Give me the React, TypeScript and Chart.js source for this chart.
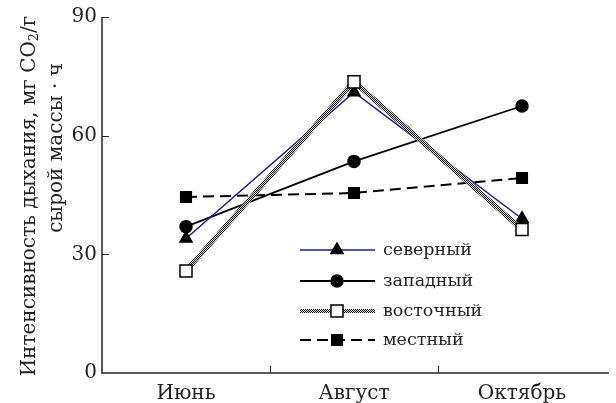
import React, { useEffect, useRef } from "react";
import { Chart, registerables } from "chart.js";
Chart.register(...registerables);

const categories = ["Июнь", "Август", "Октябрь"];
const northern = [34, 71, 39];
const western = [37, 53.5, 67.5];
const eastern = [25.8, 73.6, 36.3];
const local = [44.5, 45.5, 49.3];
const yTickValues = [0, 30, 60, 90];
const seriesNames = ["северный", "западный", "восточный", "местный"];
const yTitleLine1Parts = ["Интенсивность дыхания, мг CO", "2", "/г"];
const yTitleLine2 = "сырой массы · ч";

const FONT = "DejaVu Serif";

export default function App() {
  const ref = useRef<HTMLCanvasElement | null>(null);
  useEffect(() => {
    document.body.style.margin = "0";
    const canvas = ref.current!;
    const ctx = canvas.getContext("2d")!;
    const pc = document.createElement("canvas");
    pc.width = 2;
    pc.height = 2;
    const pctx = pc.getContext("2d")!;
    pctx.fillStyle = "#ddd";
    pctx.fillRect(0, 0, 2, 2);
    pctx.fillStyle = "#111";
    pctx.fillRect(0, 0, 1, 1);
    pctx.fillRect(1, 1, 1, 1);
    const pattern = ctx.createPattern(pc, "repeat")!;

    const styles = [
      { color: "#1c1c8a", width: 1.5, dash: [] as number[], shape: "triangle", fill: "#000", r: 7 },
      { color: "#000", width: 1.8, dash: [] as number[], shape: "circle", fill: "#000", r: 6 },
      { color: pattern as any, width: 5, dash: [] as number[], shape: "rect", fill: "#fff", r: 8.5 },
      { color: "#000", width: 2, dash: [11, 6], shape: "rect", fill: "#000", r: 7.5 },
    ];
    const dataArrays = [northern, western, eastern, local];

    const drawMarker = (c: CanvasRenderingContext2D, shape: string, x: number, y: number, r: number, fill: string) => {
      c.save();
      c.setLineDash([]);
      c.fillStyle = fill;
      c.strokeStyle = "#000";
      c.lineWidth = 1.5;
      c.beginPath();
      if (shape === "circle") {
        c.arc(x, y, r, 0, Math.PI * 2);
      } else if (shape === "triangle") {
        let rad = 0;
        c.moveTo(x + Math.sin(rad) * r, y - Math.cos(rad) * r);
        rad += (2 * Math.PI) / 3;
        c.lineTo(x + Math.sin(rad) * r, y - Math.cos(rad) * r);
        rad += (2 * Math.PI) / 3;
        c.lineTo(x + Math.sin(rad) * r, y - Math.cos(rad) * r);
        c.closePath();
      } else {
        const s = Math.SQRT1_2 * r;
        c.rect(x - s, y - s, 2 * s, 2 * s);
      }
      c.fill();
      c.stroke();
      c.restore();
    };

    const decor = {
      id: "decor",
      afterDraw(chart: any) {
        const c = chart.ctx as CanvasRenderingContext2D;
        const { left, right, top, bottom } = chart.chartArea;
        const xs = chart.scales.x;
        const ys = chart.scales.y;
        c.save();
        c.strokeStyle = "#222";
        c.lineWidth = 1.5;
        c.beginPath();
        c.moveTo(left, top);
        c.lineTo(left, bottom);
        c.lineTo(right + 3, bottom);
        c.stroke();
        // y ticks (inside)
        c.lineWidth = 1;
        yTickValues.forEach((v) => {
          if (v === 0) return;
          const y = Math.round(ys.getPixelForValue(v)) + 0.5;
          c.beginPath();
          c.moveTo(left, y);
          c.lineTo(left + 7, y);
          c.stroke();
        });
        // x ticks at category boundaries (inside)
        for (let i = 1; i < categories.length; i++) {
          const x = Math.round((xs.getPixelForValue(i - 1) + xs.getPixelForValue(i)) / 2) + 0.5;
          c.beginPath();
          c.moveTo(x, bottom);
          c.lineTo(x, bottom - 7);
          c.stroke();
        }
        // y title
        c.fillStyle = "#222";
        c.textBaseline = "middle";
        c.save();
        c.translate(30, 196);
        c.rotate(-Math.PI / 2);
        const mainFont = `20px "${FONT}"`;
        const subFont = `13px "${FONT}"`;
        c.font = mainFont;
        const w0 = c.measureText(yTitleLine1Parts[0]).width;
        const w2 = c.measureText(yTitleLine1Parts[2]).width;
        c.font = subFont;
        const w1 = c.measureText(yTitleLine1Parts[1]).width;
        let x0 = -(w0 + w1 + w2) / 2;
        c.textAlign = "left";
        c.font = mainFont;
        c.fillText(yTitleLine1Parts[0], x0, 0);
        x0 += w0;
        c.font = subFont;
        c.fillText(yTitleLine1Parts[1], x0, 5);
        x0 += w1;
        c.font = mainFont;
        c.fillText(yTitleLine1Parts[2], x0, 0);
        c.restore();
        c.save();
        c.translate(57, 148);
        c.rotate(-Math.PI / 2);
        c.font = mainFont;
        c.textAlign = "center";
        c.fillText(yTitleLine2, 0, 0);
        c.restore();
        // legend
        const rows = [250, 281, 311, 340];
        const legendFont = `17.5px "${FONT}"`;
        seriesNames.forEach((name, i) => {
          const st = styles[i];
          const y = rows[i];
          c.save();
          c.strokeStyle = st.color;
          c.lineWidth = i === 2 ? 4 : st.width;
          c.setLineDash(st.dash);
          c.beginPath();
          c.moveTo(300, y);
          c.lineTo(375, y);
          c.stroke();
          c.restore();
          drawMarker(c, st.shape, 337, y, st.r, st.fill);
          c.font = legendFont;
          c.textAlign = "left";
          c.fillStyle = "#222";
          c.fillText(name, 383, y);
        });
        c.restore();
      },
    };

    const chart = new Chart(canvas, {
      type: "line",
      data: {
        labels: categories,
        datasets: dataArrays.map((d, i) => ({
          label: seriesNames[i],
          data: d,
          borderColor: styles[i].color,
          borderWidth: styles[i].width,
          borderDash: styles[i].dash,
          pointStyle: styles[i].shape as any,
          pointRadius: styles[i].r,
          pointBackgroundColor: styles[i].fill,
          pointBorderColor: "#000",
          pointBorderWidth: 1.5,
          tension: 0,
          fill: false,
          order: i === 2 ? 0 : i + 1,
        })),
      },
      options: {
        animation: false,
        responsive: false,
        events: [],
        layout: { padding: { top: 17, right: 3, left: 0, bottom: 0 } },
        plugins: { legend: { display: false }, tooltip: { enabled: false } },
        scales: {
          x: {
            type: "category",
            offset: true,
            grid: { display: false, drawTicks: false },
            border: { display: false },
            ticks: { color: "#222", padding: 9, font: { family: FONT, size: 20 }, maxRotation: 0 },
            afterFit(scale: any) {
              scale.height = 30;
            },
          },
          y: {
            min: 0,
            max: 90,
            grid: { display: false, drawTicks: false },
            border: { display: false },
            ticks: {
              stepSize: 30,
              color: "#222",
              padding: 5,
              font: { family: FONT, size: 20 },
            },
            afterFit(scale: any) {
              scale.width = 102;
            },
          },
        },
      },
      plugins: [decor],
    });
    return () => chart.destroy();
  }, []);
  return <canvas ref={ref} width={616} height={403} style={{ display: "block" }} />;
}
